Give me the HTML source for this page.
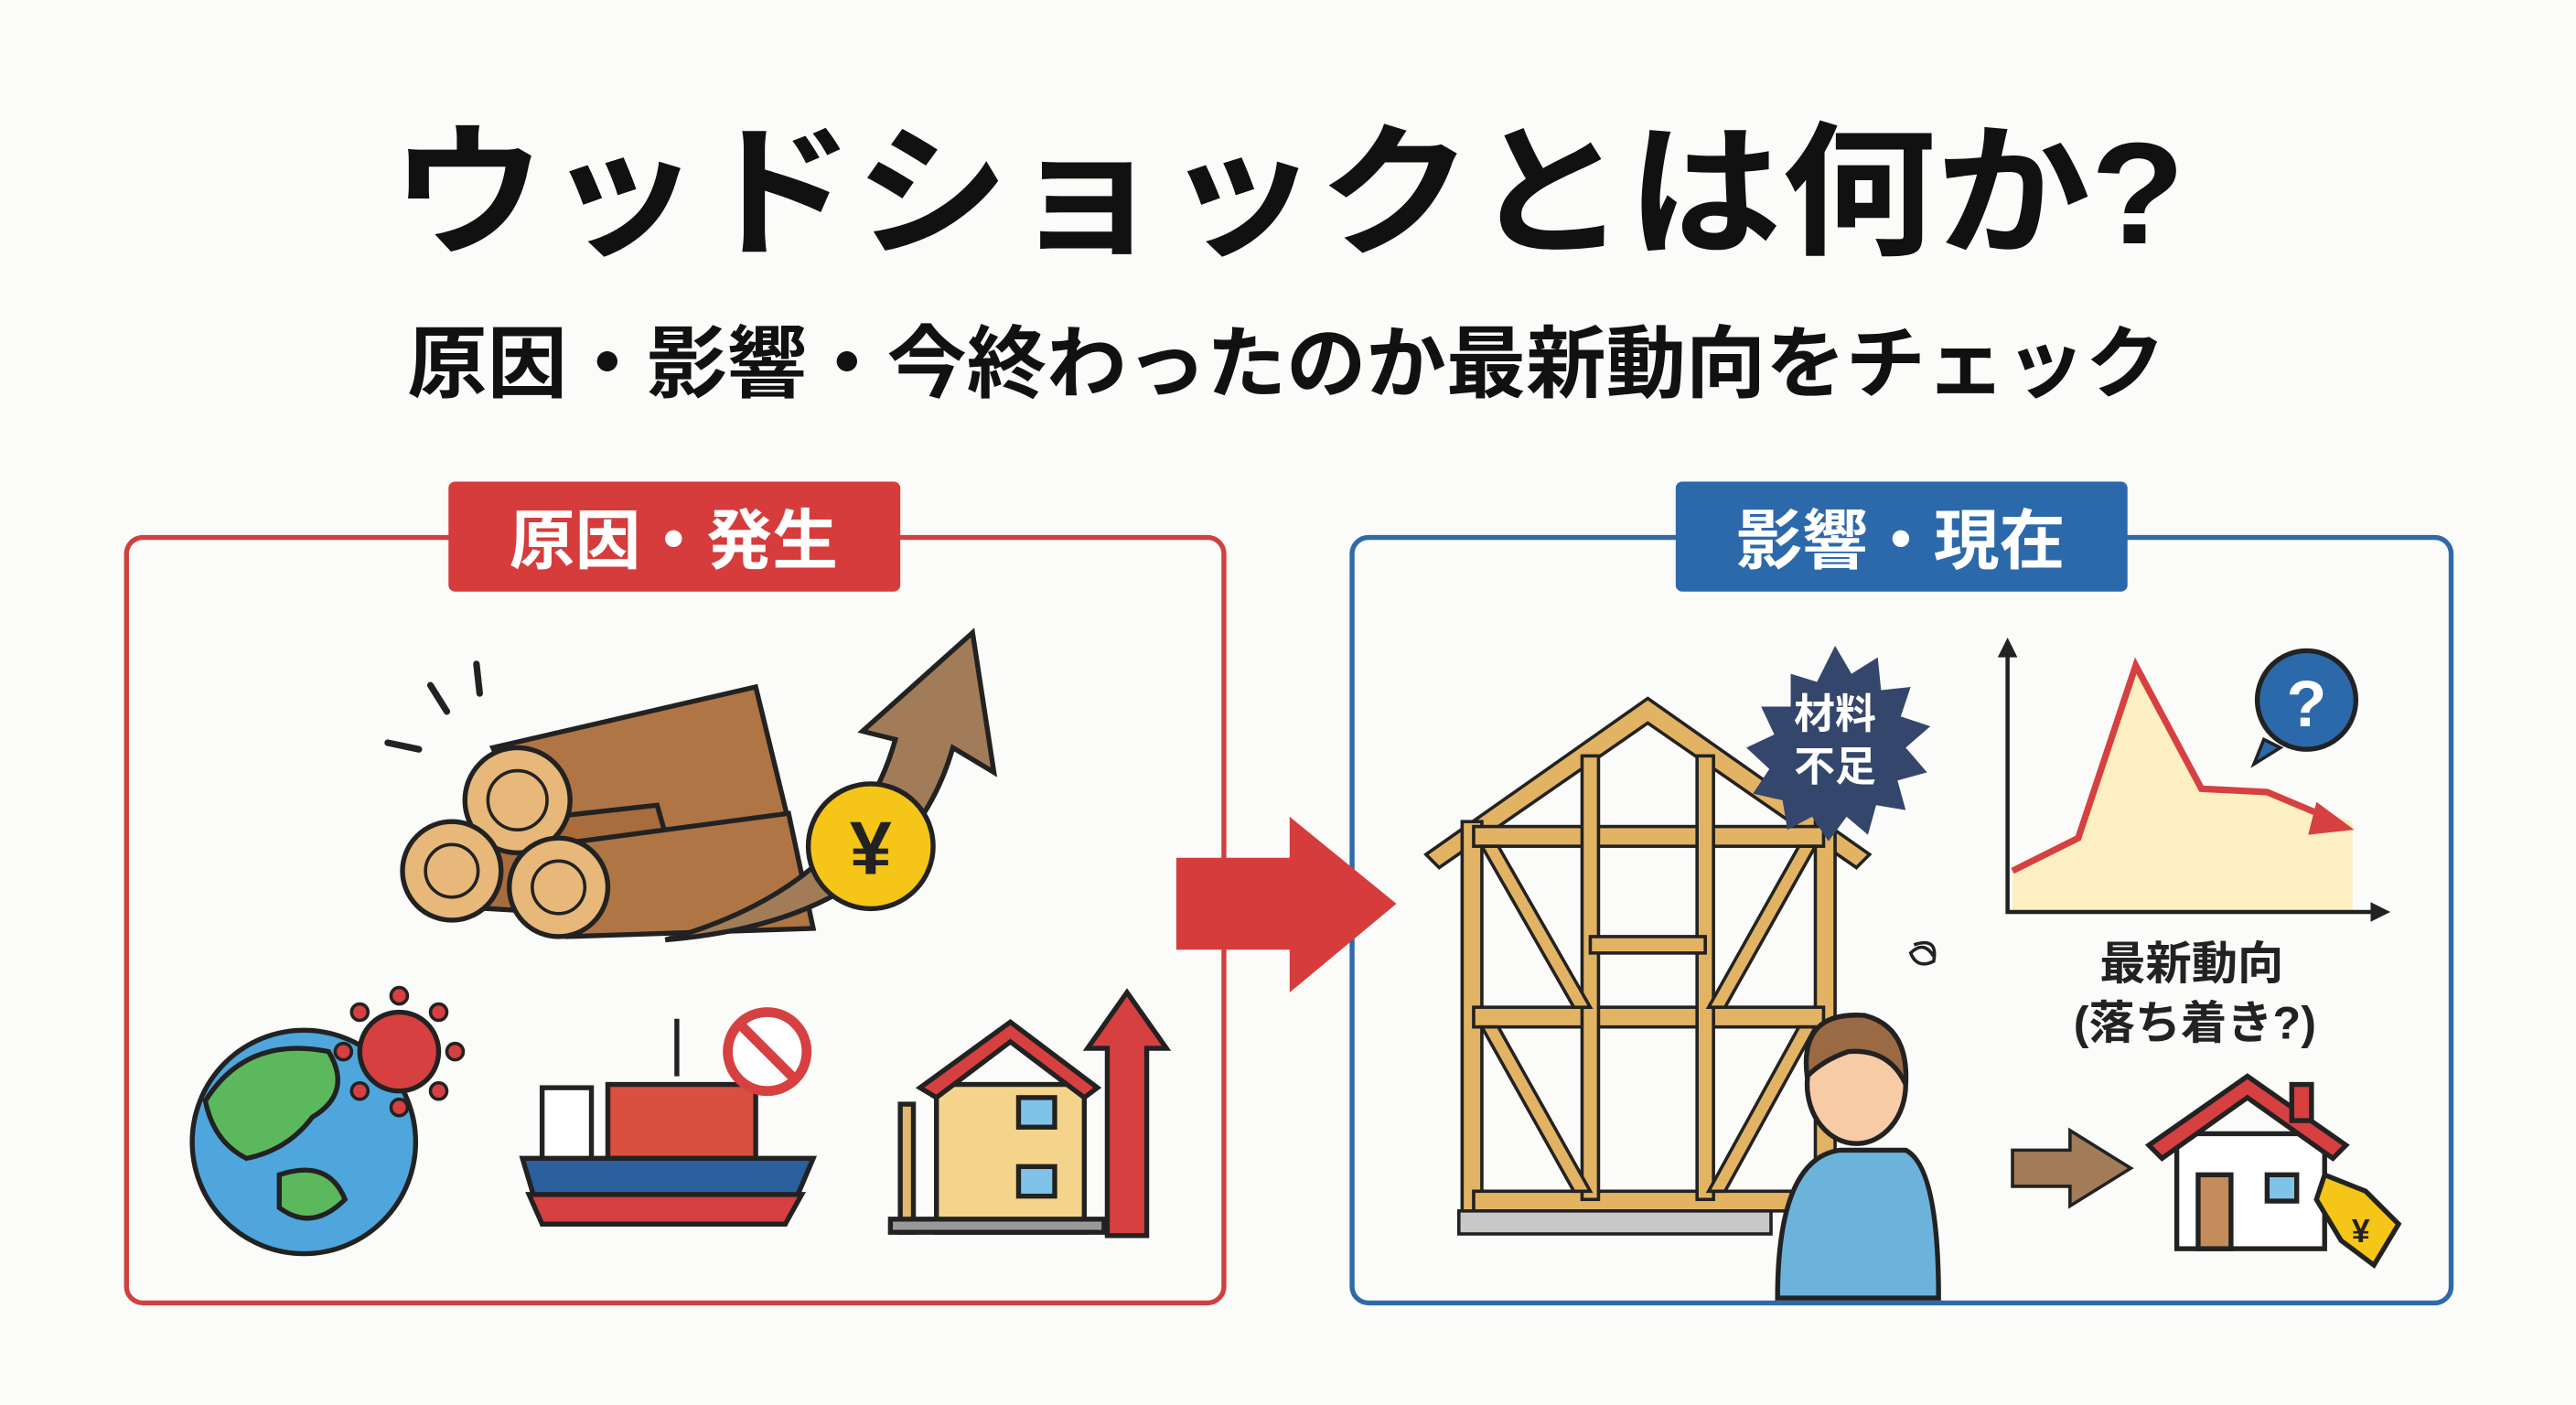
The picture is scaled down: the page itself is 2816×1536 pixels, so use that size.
<!DOCTYPE html>
<html><head><meta charset="utf-8"><style>
html,body{margin:0;padding:0;background:#fbfbf9;}
svg{display:block}
text{font-family:"Liberation Sans","Noto Sans CJK JP",sans-serif;font-weight:bold}
</style></head><body>
<svg width="2816" height="1536" viewBox="0 0 1568 855" xmlns="http://www.w3.org/2000/svg">
<rect width="1568" height="855" fill="#fbfbf9"/>
<text x="238" y="148" font-size="88" textLength="1092" lengthAdjust="spacingAndGlyphs" fill="#111">ウッドショックとは何か?</text>
<text x="248" y="238" font-size="48" textLength="1070" lengthAdjust="spacingAndGlyphs" fill="#111">原因・影響・今終わったのか最新動向をチェック</text>

<!-- left box -->
<rect x="77" y="327" width="668" height="466" rx="10" fill="none" stroke="#d04040" stroke-width="3"/>
<rect x="273" y="293" width="275" height="67" rx="4" fill="#d63c3c"/>
<text x="410" y="343" font-size="40" text-anchor="middle" fill="#fff">原因・発生</text>
<!-- right box -->
<rect x="823" y="327" width="669" height="466" rx="10" fill="none" stroke="#2e6aa8" stroke-width="3"/>
<rect x="1020" y="293" width="275" height="67" rx="4" fill="#2c69ab"/>
<text x="1157" y="343" font-size="40" text-anchor="middle" fill="#fff">影響・現在</text>

<!-- center arrow -->
<polygon points="716,522 785,522 785,497 850,550 785,604 785,578 716,578" fill="#d63c3c"/>

<!-- impact lines -->
<g stroke="#222" stroke-width="4" stroke-linecap="round">
<line x1="262" y1="417" x2="272" y2="433"/><line x1="290" y1="404" x2="292" y2="422"/><line x1="236" y1="452" x2="255" y2="456"/>
</g>
<!-- logs -->
<g stroke="#222" stroke-width="3">
<polygon points="300,455 460,418 480,500 330,520" fill="#b07545"/>
<polygon points="265,505 400,490 420,560 280,552" fill="#a86c3d"/>
<polygon points="330,515 480,495 495,565 345,570" fill="#b07545"/>
<circle cx="315" cy="487" r="32" fill="#e7b879"/><circle cx="315" cy="487" r="18" fill="none" stroke-width="2"/>
<circle cx="275" cy="530" r="30" fill="#e7b879"/><circle cx="275" cy="530" r="16" fill="none" stroke-width="2"/>
<circle cx="340" cy="540" r="30" fill="#e7b879"/><circle cx="340" cy="540" r="16" fill="none" stroke-width="2"/>
<path d="M405,572 Q520,540 545,450 L525,445 L592,385 L605,470 L580,455 Q550,560 405,572 Z" fill="#a27c58"/>
<circle cx="530" cy="515" r="38" fill="#f5c518"/>
</g>
<text x="530" y="532" font-size="46" text-anchor="middle" fill="#222">¥</text>

<!-- globe -->
<g stroke="#222" stroke-width="3">
<circle cx="185" cy="695" r="68" fill="#4ea6dc"/>
<path d="M125,670 Q150,630 200,640 Q215,665 190,680 Q175,700 150,705 Q130,695 125,670Z" fill="#5cb85c"/>
<path d="M170,715 Q200,705 210,730 Q190,750 170,735Z" fill="#5cb85c"/>
<circle cx="243" cy="640" r="24" fill="#d64040"/>
</g>
<g fill="#d64040" stroke="#222" stroke-width="2">
<circle cx="243" cy="606" r="5"/><circle cx="277" cy="640" r="5"/><circle cx="243" cy="674" r="5"/><circle cx="209" cy="640" r="5"/>
<circle cx="267" cy="616" r="5"/><circle cx="267" cy="664" r="5"/><circle cx="219" cy="616" r="5"/><circle cx="219" cy="664" r="5"/>
</g>

<!-- ship -->
<g stroke="#222" stroke-width="3">
<line x1="412" y1="620" x2="412" y2="655"/>
<rect x="370" y="660" width="90" height="45" fill="#d95040"/>
<rect x="330" y="662" width="30" height="45" fill="#fff"/>
<polygon points="318,705 495,705 478,745 330,745" fill="#2c5f9e"/>
<polygon points="322,727 488,727 478,745 330,745" fill="#d64040"/>
<circle cx="467" cy="640" r="24" fill="#fff" stroke="#d64040" stroke-width="6"/>
<line x1="452" y1="625" x2="482" y2="655" stroke="#d64040" stroke-width="6"/>
</g>

<!-- house left -->
<g stroke="#222" stroke-width="3">
<rect x="570" y="660" width="90" height="90" fill="#f4d38b"/>
<polygon points="560,662 615,622 668,662 660,668 615,634 570,668" fill="#d64040"/>
<rect x="620" y="668" width="22" height="18" fill="#7fc4e8"/><rect x="620" y="710" width="22" height="18" fill="#7fc4e8"/>
<rect x="548" y="672" width="8" height="78" fill="#e2b770"/><rect x="542" y="742" width="130" height="8" fill="#999"/>
<polygon points="674,752 674,638 662,638 686,604 710,638 698,638 698,752" fill="#d64040"/>
</g>

<!-- house frame -->
<g stroke="#222" stroke-width="2" fill="#e3b364">
<polygon points="868,520 1003,425 1138,520 1130,528 1003,440 876,528"/>
<rect x="890" y="500" width="12" height="240"/><rect x="1105" y="500" width="12" height="240"/>
<rect x="897" y="503" width="213" height="12"/><rect x="897" y="613" width="213" height="12"/><rect x="897" y="725" width="213" height="12"/>
<rect x="963" y="460" width="10" height="270"/><rect x="1033" y="460" width="10" height="270"/>
<rect x="968" y="570" width="70" height="10"/>
<polygon points="902,515 912,515 968,613 958,613"/><polygon points="1105,515 1095,515 1040,613 1050,613"/>
<polygon points="902,625 912,625 968,725 958,725"/><polygon points="1105,625 1095,625 1040,725 1050,725"/>
<rect x="888" y="737" width="190" height="14" fill="#c8c8c8"/>
</g>
<polygon points="1117,393 1127,410 1143,400 1145,420 1163,418 1157,436 1175,442 1160,455 1173,470 1155,475 1160,493 1142,490 1137,508 1124,497 1113,512 1103,497 1088,505 1085,487 1067,483 1077,468 1063,455 1080,447 1072,430 1090,430 1090,410 1106,415" fill="#34466b"/>
<text x="1117" y="443" font-size="25" text-anchor="middle" fill="#fff">材料</text>
<text x="1117" y="475" font-size="25" text-anchor="middle" fill="#fff">不足</text>
<!-- person -->
<g stroke="#222" stroke-width="3">
<path d="M1082,790 Q1082,705 1120,700 L1160,700 Q1180,710 1180,790 Z" fill="#6cb3dc"/>
<ellipse cx="1130" cy="660" rx="30" ry="36" fill="#f7cba6"/>
<path d="M1100,655 Q1095,615 1135,618 Q1162,625 1160,660 Q1150,638 1125,640 Q1110,645 1100,655Z" fill="#9a6a44"/>
<path d="M1165,575 q15,-5 12,10 q-10,5 -14,-5 q8,-8 14,2" fill="none" stroke-width="2"/>
</g>
<!-- chart -->
<polygon points="1225,530 1265,510 1300,405 1340,480 1380,482 1432,500 1432,555 1225,555" fill="#fcefc2"/>
<polyline points="1225,530 1265,510 1300,405 1340,480 1380,482 1418,498" fill="none" stroke="#d64040" stroke-width="4"/>
<polygon points="1410,488 1433,505 1405,508" fill="#d64040"/>
<g stroke="#222" stroke-width="2.5" fill="none"><polyline points="1222,398 1222,555 1445,555"/></g>
<polygon points="1216,400 1222,388 1228,400" fill="#222"/><polygon points="1443,549 1455,555 1443,561" fill="#222"/>
<path d="M1378,450 L1372,465 L1388,455 Z" fill="#2c69ab" stroke="#222" stroke-width="2"/>
<circle cx="1404" cy="426" r="30" fill="#2c69ab" stroke="#222" stroke-width="3"/>
<text x="1404" y="442" font-size="40" text-anchor="middle" fill="#fff">?</text>
<text x="1334" y="596" font-size="28" text-anchor="middle" fill="#222">最新動向</text>
<text x="1336" y="632" font-size="28" text-anchor="middle" fill="#222">(落ち着き?)</text>
<polygon points="1225,700 1260,700 1260,688 1297,711 1260,734 1260,722 1225,722" fill="#a27c58" stroke="#222" stroke-width="2"/>
<g stroke="#222" stroke-width="3">
<rect x="1325" y="690" width="90" height="70" fill="#fff"/>
<polygon points="1308,697 1368,655 1428,697 1420,705 1368,668 1316,705" fill="#d64040"/>
<rect x="1395" y="660" width="12" height="22" fill="#d64040"/>
<rect x="1338" y="715" width="20" height="45" fill="#c58b5a"/>
<rect x="1380" y="715" width="18" height="16" fill="#7fc4e8"/>
<polygon points="1415,715 1440,725 1460,745 1445,770 1425,755 1410,730" fill="#f5c518"/>
</g>
<text x="1437" y="756" font-size="20" text-anchor="middle" fill="#222">¥</text>
</svg>
</body></html>
